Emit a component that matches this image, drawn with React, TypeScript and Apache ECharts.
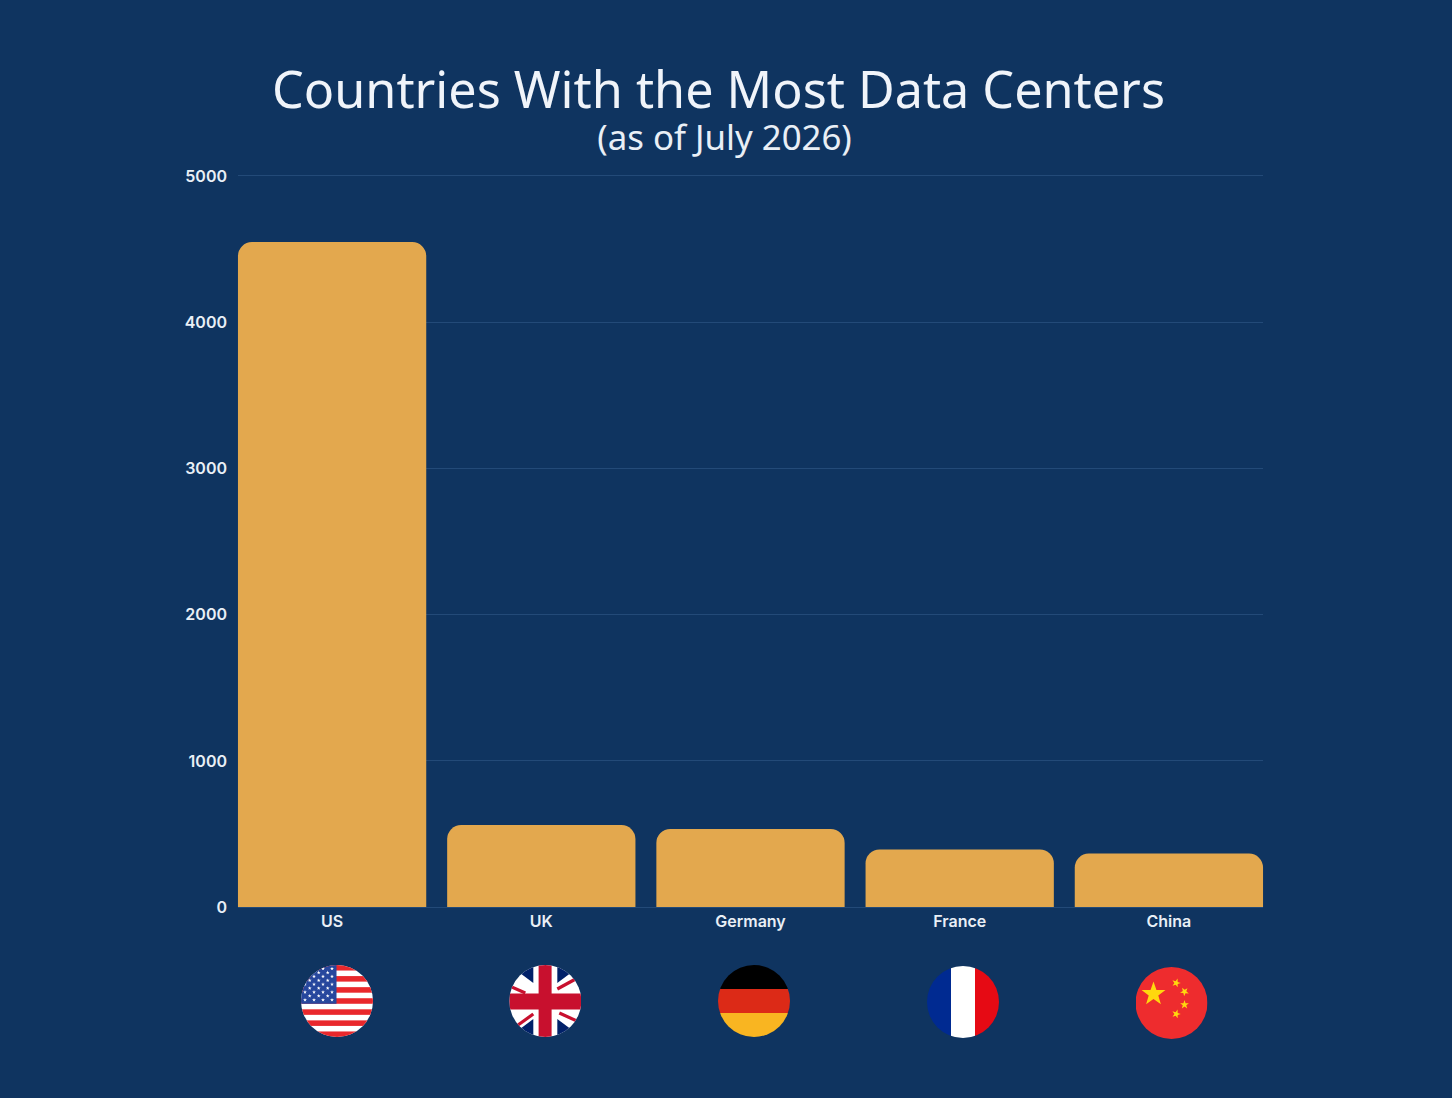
import React, { useEffect, useRef } from "react";
import * as echarts from "echarts";

const categories = ["US", "UK", "Germany", "France", "China"];
const dataCenters = [4545, 560, 533, 393, 365];
const yTicks = [0, 1000, 2000, 3000, 4000, 5000];
const titleText = "Countries With the Most Data Centers";
const subtitleText = "(as of July 2026)";

const BG = "#0f3460";
const BAR = "#e3a84e";
const TEXT = "#e9eff6";
const FONT = "Inter";
const TITLE_FONT = "Noto Sans";

function star(cx: number, cy: number, r: number, rot = 0) {
  const pts: string[] = [];
  for (let i = 0; i < 10; i++) {
    const rad = i % 2 === 0 ? r : r * 0.4;
    const a = -Math.PI / 2 + rot + (i * Math.PI) / 5;
    pts.push(`${(cx + rad * Math.cos(a)).toFixed(2)},${(cy + rad * Math.sin(a)).toFixed(2)}`);
  }
  return `<polygon points="${pts.join(" ")}"/>`;
}

function wrap(inner: string) {
  const svg = `<svg xmlns="http://www.w3.org/2000/svg" width="288" height="288" viewBox="0 0 72 72"><defs><clipPath id="c"><circle cx="36" cy="36" r="36"/></clipPath></defs><g clip-path="url(#c)">${inner}</g></svg>`;
  return "data:image/svg+xml;charset=utf-8," + encodeURIComponent(svg);
}

function usFlag() {
  let s = `<rect width="72" height="72" fill="#ffffff"/>`;
  const h = 72 / 13;
  for (let i = 0; i < 13; i += 2) s += `<rect y="${i * h}" width="72" height="${h}" fill="#e9282c"/>`;
  s += `<rect width="35.5" height="${h * 7}" fill="#27479d"/><g fill="#ffffff">`;
  for (let r = 0; r < 9; r++) {
    const odd = r % 2 === 1;
    const n = odd ? 3 : 4;
    for (let c = 0; c < n; c++) s += star((odd ? 8.7 : 4) + c * 9, 3.7 + r * 3.9, 2);
  }
  return wrap(s + "</g>");
}

function ukFlag() {
  const tri = (p: string) => `<polygon points="${p}" fill="#012169"/>`;
  const line = (d: string) => `<path d="${d}" stroke="#c8102e" stroke-width="3.2" fill="none"/>`;
  return wrap(
    `<rect width="72" height="72" fill="#ffffff"/>` +
      tri("0,0 24,18 24,0") +
      tri("48,0 48,18 72,0") +
      tri("0,72 24,54 24,72") +
      tri("48,72 48,54 72,72") +
      line("M0 21L16 28") +
      line("M48 24L70 12") +
      line("M6 62L24 49") +
      line("M50 48L72 58") +
      `<rect x="29.3" width="13" height="72" fill="#c8102e"/><rect y="28.5" width="72" height="16" fill="#c8102e"/>`
  );
}

function deFlag() {
  return wrap(
    `<rect width="72" height="24" fill="#000000"/><rect y="24" width="72" height="24" fill="#dc2a17"/><rect y="48" width="72" height="24" fill="#f9b521"/>`
  );
}

function frFlag() {
  return wrap(
    `<rect width="24" height="72" fill="#002a91"/><rect x="24" width="24" height="72" fill="#ffffff"/><rect x="48" width="24" height="72" fill="#e60a14"/>`
  );
}

function cnFlag() {
  return wrap(
    `<rect width="72" height="72" fill="#ee2c2e"/><g fill="#ffd80e">` +
      star(18, 27, 12.6) +
      star(40.7, 16, 4.6, 0.3) +
      star(49, 24.7, 4.6, 0.7) +
      star(49, 37.7, 4.6, 0) +
      star(40.7, 47, 4.6, 0.3) +
      "</g>"
  );
}

const flagImages = [usFlag(), ukFlag(), deFlag(), frFlag(), cnFlag()];
const flagCenters = [
  [337, 1001],
  [545.3, 1001],
  [754, 1001],
  [963, 1002],
  [1171.5, 1003],
];
const FLAG_R = 36;

export default function App() {
  const ref = useRef<HTMLDivElement>(null);
  useEffect(() => {
    document.body.style.margin = "0";
    document.body.style.background = BG;
    const chart = echarts.init(ref.current!, undefined, { renderer: "svg" });
    chart.setOption({
      animation: false,
      backgroundColor: BG,
      title: [
        {
          text: titleText,
          left: 718.5,
          top: 63,
          padding: 0,
          textAlign: "center",
          textStyle: { color: "#f0f4fa", fontFamily: TITLE_FONT, fontWeight: 400, fontSize: 50.3, lineHeight: 50 },
        },
        {
          text: subtitleText,
          left: 724.5,
          top: 118,
          padding: 0,
          textAlign: "center",
          textStyle: { color: "#e9eff6", fontFamily: TITLE_FONT, fontWeight: 400, fontSize: 34.8, lineHeight: 36 },
        },
      ],
      grid: [
        { left: 227.5, width: 1046, top: 175.5, height: 731.5 },
        { left: 238, width: 1025, top: 175.5, height: 731.5 },
      ],
      xAxis: [
        {
          type: "category",
          gridIndex: 0,
          data: categories,
          axisLine: { show: false },
          axisTick: { show: false },
          axisLabel: { color: TEXT, fontFamily: FONT, fontWeight: 600, fontSize: 16, margin: 6 },
        },
        { type: "category", gridIndex: 1, data: categories, show: false },
      ],
      yAxis: [
        { type: "value", gridIndex: 0, min: 0, max: 5000, interval: 1000, show: false },
        {
          type: "value",
          gridIndex: 1,
          min: yTicks[0],
          max: yTicks[yTicks.length - 1],
          interval: 1000,
          axisLine: { show: false },
          axisTick: { show: false },
          axisLabel: {
            color: TEXT,
            fontFamily: FONT,
            fontWeight: 600,
            fontSize: 16,
            margin: 11,
            formatter: (v: number) => String(v),
          },
          splitLine: { show: true, lineStyle: { color: "#234a78", width: 1 } },
        },
      ],
      series: [
        {
          type: "bar",
          xAxisIndex: 0,
          yAxisIndex: 0,
          data: dataCenters,
          barCategoryGap: "10%",
          itemStyle: { color: BAR, borderRadius: [14, 14, 0, 0] },
          silent: true,
        },
      ],
      graphic: flagImages.map((image, i) => ({
        type: "image",
        x: flagCenters[i][0] - FLAG_R,
        y: flagCenters[i][1] - FLAG_R,
        style: { image, width: FLAG_R * 2, height: FLAG_R * 2 },
        silent: true,
      })),
    });
    return () => chart.dispose();
  }, []);
  return <div ref={ref} style={{ width: 1452, height: 1098, overflow: "hidden" }} />;
}
